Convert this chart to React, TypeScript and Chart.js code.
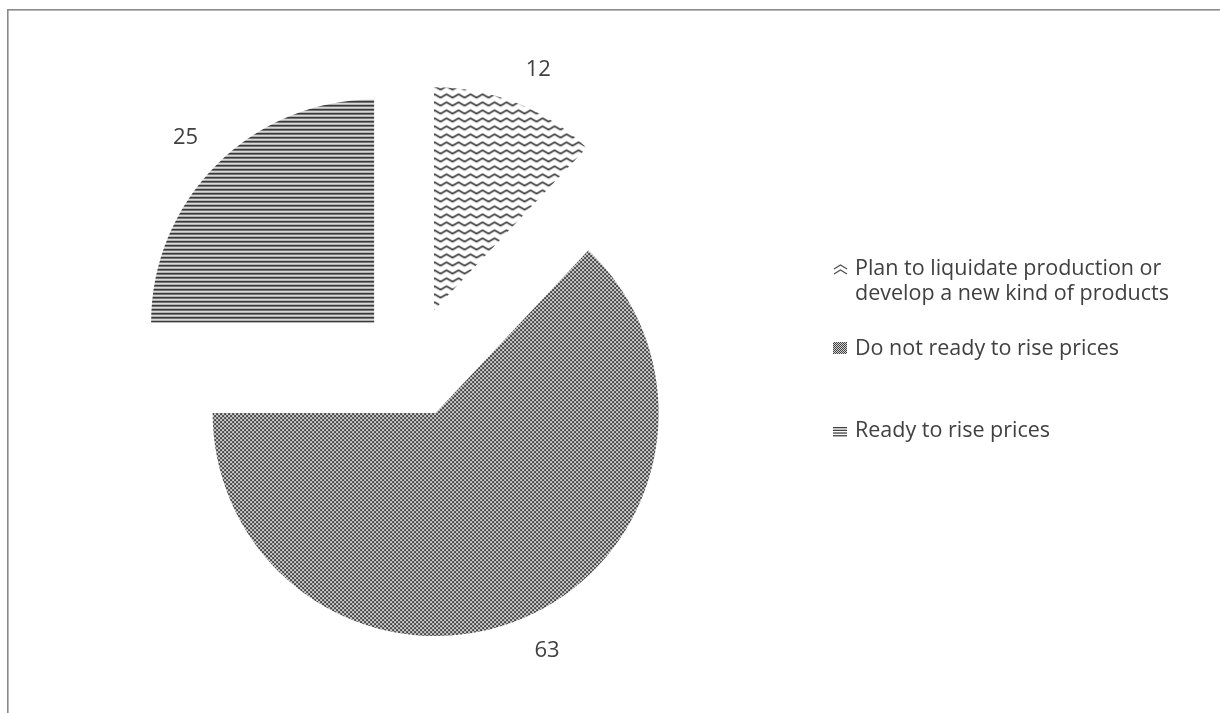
import React, { useEffect, useRef } from 'react';
import { Chart, registerables } from 'chart.js';

Chart.register(...registerables);

// ---- data ----
const categories: string[] = [
  'Plan to liquidate production or develop a new kind of products',
  'Do not ready to rise prices',
  'Ready to rise prices',
];
const legendLines: string[][] = [
  ['Plan to liquidate production or', 'develop a new kind of products'],
  ['Do not ready to rise prices'],
  ['Ready to rise prices'],
];
const values: number[] = [12, 63, 25];

// ---- style constants ----
const EXPLODE = 55.7;
const RADIUS = 223;
const LABEL_GAP = 26;
const LABEL_H = 18;
const TEXT_COLOR = '#404040';
const FONT_FAMILY = '"Open Sans", Lato, sans-serif';

function makeCanvas(w: number, h: number) {
  const c = document.createElement('canvas');
  c.width = w;
  c.height = h;
  return c;
}

function wavePattern(ctx: CanvasRenderingContext2D) {
  const c = makeCanvas(12, 8);
  const g = c.getContext('2d')!;
  g.strokeStyle = '#3a3a3a';
  g.lineWidth = 1.6;
  g.lineJoin = 'round';
  g.beginPath();
  g.moveTo(-6, 2);
  g.lineTo(0, 5.5);
  g.lineTo(6, 2);
  g.lineTo(12, 5.5);
  g.lineTo(18, 2);
  g.stroke();
  return ctx.createPattern(c, 'repeat')!;
}

function checkerPattern(ctx: CanvasRenderingContext2D, cell: number) {
  const c = makeCanvas(cell * 2, cell * 2);
  const g = c.getContext('2d')!;
  g.fillStyle = '#d0d0d0';
  g.fillRect(0, 0, cell * 2, cell * 2);
  g.fillStyle = '#444444';
  g.fillRect(0, 0, cell, cell);
  g.fillRect(cell, cell, cell, cell);
  return ctx.createPattern(c, 'repeat')!;
}

function hLinePattern(ctx: CanvasRenderingContext2D) {
  const c = makeCanvas(4, 4);
  const g = c.getContext('2d')!;
  g.fillStyle = '#333333';
  g.fillRect(0, 0, 4, 1);
  g.fillStyle = '#454545';
  g.fillRect(0, 1, 4, 1);
  g.fillStyle = '#c4c4c4';
  g.fillRect(0, 2, 4, 1);
  g.fillStyle = '#ffffff';
  g.fillRect(0, 3, 4, 1);
  return ctx.createPattern(c, 'repeat')!;
}

const explodePlugin = {
  id: 'explodeSlices',
  beforeDraw(chart: any) {
    const ctx: CanvasRenderingContext2D = chart.ctx;
    ctx.save();
    ctx.fillStyle = '#ffffff';
    ctx.fillRect(0, 0, chart.width, chart.height);
    // frame (left and top edges)
    ctx.fillStyle = '#8a8a8a';
    ctx.fillRect(7, 9, 1.6, chart.height - 9);
    ctx.fillRect(7, 9, chart.width - 7, 1.6);
    ctx.restore();
  },
  beforeDatasetDraw(chart: any, args: any) {
    const ctx: CanvasRenderingContext2D = chart.ctx;
    args.meta.data.forEach((arc: any) => {
      const mid = (arc.startAngle + arc.endAngle) / 2;
      ctx.save();
      ctx.translate(Math.cos(mid) * EXPLODE, Math.sin(mid) * EXPLODE);
      arc.draw(ctx);
      ctx.restore();
    });
    return false;
  },
  afterDatasetsDraw(chart: any) {
    const ctx: CanvasRenderingContext2D = chart.ctx;
    const meta = chart.getDatasetMeta(0);
    ctx.save();
    ctx.fillStyle = TEXT_COLOR;
    ctx.font = `22px ${FONT_FAMILY}`;
    ctx.textAlign = 'center';
    ctx.textBaseline = 'middle';
    meta.data.forEach((arc: any, i: number) => {
      const mid = (arc.startAngle + arc.endAngle) / 2;
      const r = arc.outerRadius + EXPLODE + LABEL_GAP;
      const cx = Math.cos(mid);
      const sy = Math.sin(mid);
      const text = String(values[i]);
      const w = ctx.measureText(text).width;
      const ax = arc.x + cx * r + Math.sign(cx) * w / 2;
      const ay = arc.y + sy * r + Math.sign(sy) * LABEL_H / 2;
      ctx.fillText(text, ax, ay);
    });

    // legend
    const mx = 833;
    const tx = 855;
    const baselines = [[275, 300], [354.5], [436.5]];
    ctx.textAlign = 'left';
    ctx.textBaseline = 'alphabetic';
    ctx.font = `21.5px ${FONT_FAMILY}`;
    legendLines.forEach((lines, i) => {
      lines.forEach((line, j) => ctx.fillText(line, tx, baselines[i][j]));
    });
    // marker 1: chevrons
    ctx.strokeStyle = '#505050';
    ctx.lineWidth = 1.3;
    [265, 270].forEach((y) => {
      ctx.beginPath();
      ctx.moveTo(mx + 1, y + 4);
      ctx.lineTo(mx + 7.5, y);
      ctx.lineTo(mx + 14, y + 4);
      ctx.stroke();
    });
    // marker 2: checker square
    ctx.fillStyle = checkerPattern(ctx, 1);
    ctx.fillRect(mx, 342, 14, 12);
    // marker 3: horizontal lines
    ctx.fillStyle = '#404040';
    [427, 429.7, 432.4, 435.1].forEach((y) => ctx.fillRect(mx, y, 14, 1.3));
    ctx.restore();
  },
};

export default function App() {
  const ref = useRef<HTMLCanvasElement | null>(null);
  useEffect(() => {
    const canvas = ref.current!;
    const ctx = canvas.getContext('2d')!;
    const colors = [wavePattern(ctx), checkerPattern(ctx, 2), hLinePattern(ctx)];
    const chart = new Chart(canvas, {
      type: 'pie',
      data: {
        labels: categories,
        datasets: [
          {
            data: values,
            backgroundColor: colors as any,
            borderWidth: 0,
            radius: RADIUS,
          } as any,
        ],
      },
      options: {
        animation: false,
        responsive: false,
        maintainAspectRatio: false,
        layout: { padding: { left: 0, right: 393, top: 11, bottom: 0 } },
        plugins: { legend: { display: false }, tooltip: { enabled: false } },
      },
      plugins: [explodePlugin],
    });
    return () => chart.destroy();
  }, []);
  return (
    <div style={{ position: 'fixed', left: 0, top: 0, width: 1220, height: 713, background: '#fff' }}>
      <canvas ref={ref} width={1220} height={713} style={{ display: 'block' }} />
    </div>
  );
}
